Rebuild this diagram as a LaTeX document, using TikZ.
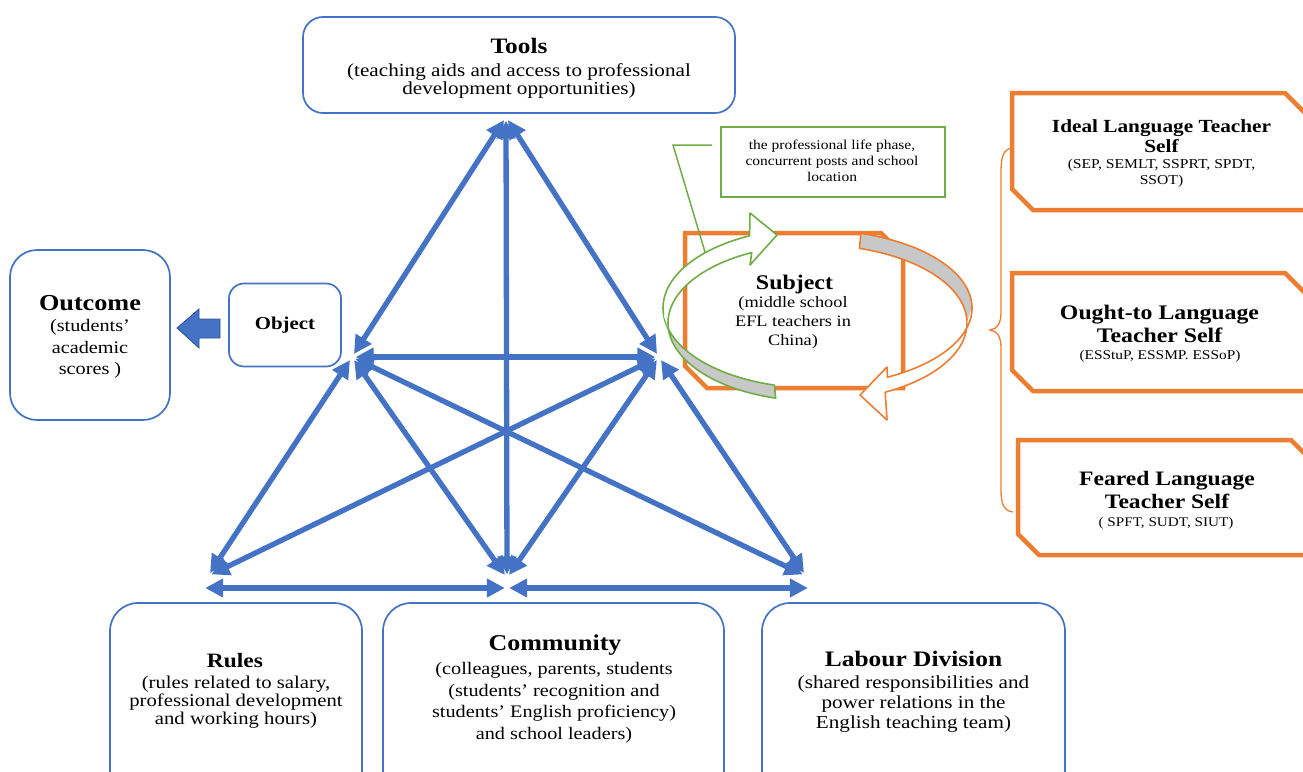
\documentclass[tikz,border=0pt]{standalone}
\usepackage{fontspec}
\setmainfont{Liberation Serif}[FakeStretch=1.15]
\usetikzlibrary{arrows.meta}

\definecolor{actblue}{HTML}{4472C4}
\definecolor{actbluedark}{HTML}{2F528F}
\definecolor{selforange}{HTML}{ED7D31}
\definecolor{notegreen}{HTML}{70AD47}
\definecolor{ribbongray}{HTML}{C8C8C8}

\newcommand\fsz[2]{\fontsize{#1}{#2}\selectfont}

\begin{document}
\begin{tikzpicture}[x=1pt,y=-1pt,
  bluebox/.style={draw=actblue, line width=1.7pt, rounded corners=#1, inner sep=0pt},
  bluebox/.default=22pt,
  txt/.style={inner sep=0pt, align=center, text=black},
  hub/.style={circle, inner sep=0pt, minimum size=#1},
  hub/.default=7pt,
  link/.style={draw=actblue, line width=5.3pt,
    {Triangle[length=18pt,width=18pt]}-{Triangle[length=18pt,width=18pt]}},
  selfbox/.style={draw=selforange, line width=4.5pt, fill=white},
  ribbonline/.style={line width=1.6pt, line join=round}
]
% canvas
\useasboundingbox (0,0) rectangle (1303,771);
\fill[white] (0,0) rectangle (1303,771);
\clip (0,0) rectangle (1303,771);

% ---------- activity system boxes ----------
\node[bluebox=20pt, minimum width=432pt, minimum height=96pt] (toolsbox) at (519,65) {};
\node[txt, font=\fsz{22}{24}\bfseries] (tools) at (519,46) {Tools};
\node[txt, font=\fsz{18.4}{18.5}] (toolsnote) at (519,81)
  {(teaching aids and access to professional\\development opportunities)};

\node[bluebox=27pt, minimum width=160pt, minimum height=170pt] (outcomebox) at (90,335) {};
\node[txt, font=\fsz{22.8}{24}\bfseries] (outcome) at (90,303.5) {Outcome};
\node[txt, font=\fsz{17.6}{21.5}] (outcomenote) at (90,349) {(students’\\academic\\scores )};

\node[bluebox=15pt, minimum width=112pt, minimum height=83pt,
      font=\fsz{18.1}{20}\bfseries] (object) at (285,325) {Object};

% object -> outcome block arrow
\filldraw[fill=actblue, draw=actbluedark, line width=0.8pt, line join=miter]
  (220,319) -- (199,319) -- (199,309) -- (177,328) -- (199,348) -- (199,338) -- (220,338) -- cycle;

\node[bluebox=28pt, minimum width=252pt, minimum height=200pt] (rulesbox) at (236,703) {};
\node[txt, font=\fsz{20.4}{22}\bfseries] (rules) at (235,661) {Rules};
\node[txt, font=\fsz{18}{18}] (rulesnote) at (236,702)
  {(rules related to salary,\\professional development\\and working hours)};

\node[bluebox=28pt, minimum width=341pt, minimum height=200pt] (communitybox) at (553.5,703) {};
\node[txt, font=\fsz{22.6}{24}\bfseries] (community) at (555,645.5) {Community};
\node[txt, font=\fsz{17.6}{21.5}] (communitynote) at (554,703)
  {(colleagues, parents, students\\(students’ recognition and\\students’ English proficiency)\\and school leaders)};

\node[bluebox=28pt, minimum width=303pt, minimum height=200pt] (labourbox) at (913.5,703) {};
\node[txt, font=\fsz{22.1}{24}\bfseries] (labour) at (913.5,658.5) {Labour Division};
\node[txt, font=\fsz{18.4}{20}] (labournote) at (913.5,704)
  {(shared responsibilities and\\power relations in the\\English teaching team)};

% ---------- triangle of mediating relations ----------
\node[hub] (T) at (506,117) {};
\node[hub] (L) at (352,357) {};
\node[hub] (R) at (659,357) {};
\node[hub] (BL) at (208,576) {};
\node[hub] (BM) at (507,578) {};
\node[hub] (BR) at (806,576) {};
\node[hub=4pt] (HL) at (203,588) {};
\node[hub=4pt] (HM) at (507,588) {};
\node[hub=4pt] (HR) at (810,588) {};

\draw[link] (T) -- (L);
\draw[link] (T) -- (R);
\draw[link] (T) -- (BM);
\draw[link] (L) -- (R);
\draw[link] (L) -- (BL);
\draw[link] (L) -- (BM);
\draw[link] (L) -- (BR);
\draw[link] (R) -- (BL);
\draw[link] (R) -- (BM);
\draw[link] (R) -- (BR);
\draw[link] (HL) -- (HM);
\draw[link] (HM) -- (HR);

% ---------- subject and possible selves ----------
\draw[selfbox] (685,233) -- (881,233) -- (903,255) -- (903,388) -- (707,388) -- (685,366) -- cycle;
\node[txt, font=\fsz{20.8}{22}\bfseries] (subject) at (794.5,284) {Subject};
\node[txt, font=\fsz{15.9}{19}] (subjectnote) at (793,323) {(middle school\\EFL teachers in\\China)};

\draw[selfbox] (1012,93) -- (1285,93) -- (1306,114) -- (1306,210) -- (1033,210) -- (1012,189) -- cycle;
\node[txt, font=\fsz{18.5}{20}\bfseries] (ideal) at (1161.5,136) {Ideal Language Teacher\\Self};
\node[txt, font=\fsz{13.6}{16}] (idealnote) at (1161.5,173) {(SEP, SEMLT, SSPRT, SPDT,\\SSOT)};

\draw[selfbox] (1012,273) -- (1285,273) -- (1306,294) -- (1306,391) -- (1033,391) -- (1012,370) -- cycle;
\node[txt, font=\fsz{20.7}{22.5}\bfseries] (oughtto) at (1159.5,324) {Ought-to Language\\Teacher Self};
\node[txt, font=\fsz{13.4}{16}] (oughttonote) at (1160,356) {(ESStuP, ESSMP. ESSoP)};

\draw[selfbox] (1018,440) -- (1291,440) -- (1312,461) -- (1312,555) -- (1039,555) -- (1018,534) -- cycle;
\node[txt, font=\fsz{20.5}{23}\bfseries] (feared) at (1167,490) {Feared Language\\Teacher Self};
\node[txt, font=\fsz{13.2}{16}] (fearednote) at (1166,523) {( SPFT, SUDT, SIUT)};

% curly brace grouping the three selves
\draw[selforange, line width=1.3pt]
  (1012,148) .. controls (1003,149) and (1001,158) .. (1001,172) -- (1001,312)
  .. controls (1001,324) and (997,329) .. (990,330)
  .. controls (997,331) and (1001,336) .. (1001,348) -- (1001,490)
  .. controls (1001,504) and (1004,511) .. (1013,512);

% ---------- circular ribbon arrows around the subject ----------
% green ribbon: underside (grey) in the lower left
\fill[ribbongray]
  plot[domain=254.5:185, samples=40] ({815+152*cos(\x)},{308-80*sin(\x)}) --
  plot[domain=185:254.5, samples=40] ({815+147*cos(\x)},{323-78*sin(\x)}) -- cycle;
\draw[notegreen, ribbonline]
  plot[domain=185:254.5, samples=40] ({815+152*cos(\x)},{308-80*sin(\x)}) --
  plot[domain=254.5:185, samples=40] ({815+147*cos(\x)},{323-78*sin(\x)});
% green ribbon: front face with the head pointing right
\fill[white]
  plot[domain=185:115.5, samples=40] ({815+152*cos(\x)},{308-80*sin(\x)}) --
  (750,213) -- (777,235) -- (750,265) --
  plot[domain=115.5:185, samples=40] ({815+147*cos(\x)},{323-78*sin(\x)}) -- cycle;
\draw[notegreen, ribbonline]
  plot[domain=185:115.5, samples=40] ({815+152*cos(\x)},{308-80*sin(\x)}) --
  (750,213) -- (777,235) -- (750,265) --
  plot[domain=115.5:185, samples=40] ({815+147*cos(\x)},{323-78*sin(\x)});

% orange ribbon: underside (grey) in the upper right
\fill[ribbongray]
  plot[domain=73:0, samples=40] ({815+157*cos(\x)},{308-78*sin(\x)}) --
  plot[domain=0:73, samples=40] ({815+152*cos(\x)},{323-78*sin(\x)}) -- cycle;
\draw[selforange, ribbonline]
  plot[domain=0:73, samples=40] ({815+157*cos(\x)},{308-78*sin(\x)}) --
  plot[domain=73:0, samples=40] ({815+152*cos(\x)},{323-78*sin(\x)});
% orange ribbon: front face with the head pointing left
\fill[white]
  plot[domain=0:-62.5, samples=40] ({815+157*cos(\x)},{308-78*sin(\x)}) --
  (887,367) -- (860,395) -- (887,420) --
  plot[domain=-62.5:0, samples=40] ({815+152*cos(\x)},{323-78*sin(\x)}) -- cycle;
\draw[selforange, ribbonline]
  plot[domain=0:-62.5, samples=40] ({815+157*cos(\x)},{308-78*sin(\x)}) --
  (887,367) -- (860,395) -- (887,420) --
  plot[domain=-62.5:0, samples=40] ({815+152*cos(\x)},{323-78*sin(\x)});

% ---------- contextual note ----------
\node[draw=notegreen, line width=1.8pt, minimum width=224pt, minimum height=70pt, inner sep=0pt]
  (notebox) at (833,162) {};
\node[txt, font=\fsz{13.5}{16}] (note) at (832,161)
  {the professional life phase,\\concurrent posts and school\\location};
\coordinate (leadstart) at (712,145);
\coordinate (leadknee) at (673,145);
\coordinate (leadend) at (705,252);
\draw[notegreen, line width=1.5pt] (leadstart) -- (leadknee) -- (leadend);

\end{tikzpicture}
\end{document}
